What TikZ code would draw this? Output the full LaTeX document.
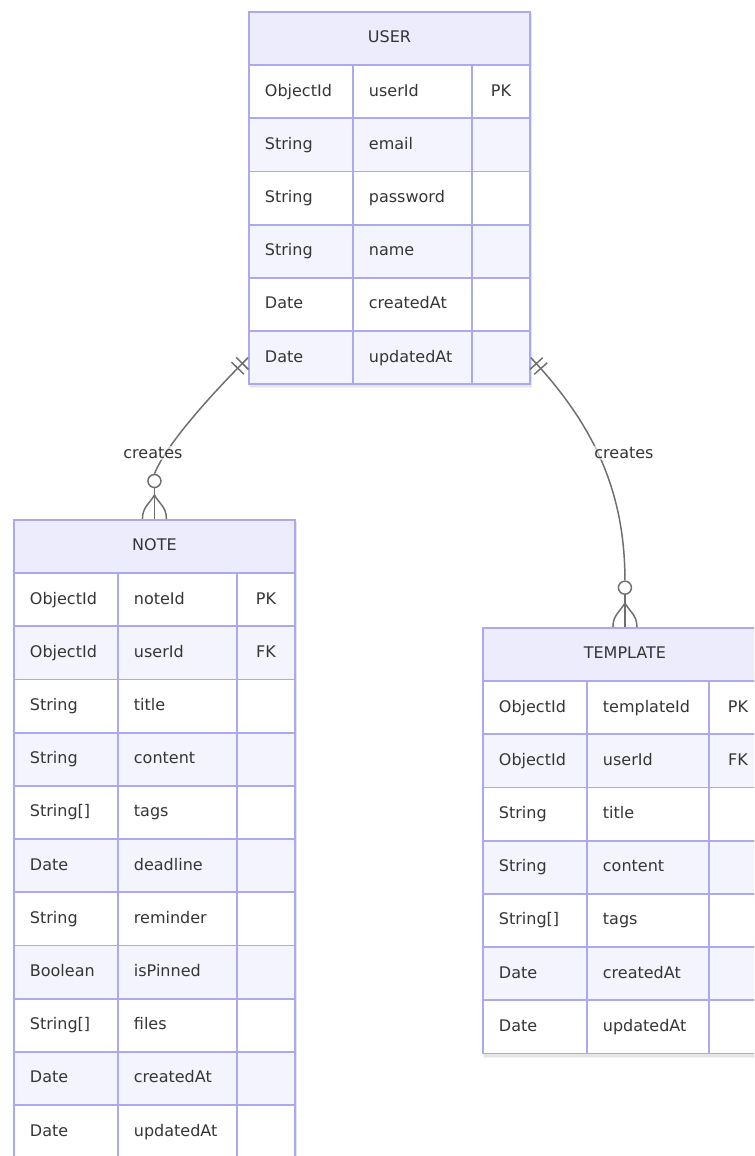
\documentclass[tikz,border=0pt]{standalone}
\usepackage{fontspec}
\setmainfont{DejaVu Sans}
\usetikzlibrary{decorations.markings}

\definecolor{erborder}{HTML}{ACA9EF}
\definecolor{erhead}{HTML}{ECECFD}
\definecolor{eralt}{HTML}{F4F4FE}
\definecolor{ertext}{HTML}{353535}
\definecolor{erline}{HTML}{6E6E6E}

\tikzset{
  ercell/.style={draw=erborder, line width=1.4pt, anchor=north west,
    minimum height=39.9pt, text=ertext, font=\fontsize{12}{14}\selectfont,
    text height=9pt, text depth=2.6pt},
  erleft/.style={ercell, inner xsep=12pt, inner ysep=0pt, align=left},
  erkey/.style={ercell, inner sep=0pt, minimum width=43.5pt},
  erheader/.style={ercell, inner sep=0pt, fill=erhead},
  ershadow/.style={fill=black, opacity=0.05},
  erlink/.style={draw=erline, line width=1.1pt},
  ercirc/.style={circle, draw=erline, line width=1.1pt, fill=white,
    minimum size=9.75pt, inner sep=0pt},
  onebars/.style={postaction={decorate, decoration={markings,
    mark=at position 6pt with {\draw[erline, line width=1.1pt] (0pt,-6.5pt) -- (0pt,6.5pt);},
    mark=at position 11pt with {\draw[erline, line width=1.1pt] (0pt,-6.5pt) -- (0pt,6.5pt);}}}},
  erlabel/.style={fill=white, fill opacity=0.6, text opacity=1, inner sep=1pt,
    text=ertext, font=\fontsize{12}{14}\selectfont}
}

% \ertable{name}{left}{top}{name column width}{title}{rows}{row count}
% all positions in pixels of the drawing grid
\newcommand\ertable[7]{%
  \pgfmathsetmacro\erW{104+#4+58}%
  \pgfmathsetmacro\erNT{#4*0.75-24}%
  \fill[ershadow] (#2+1,#3+2) rectangle +(\erW+2,{53.2*(#7+1)+2});
  \fill[ershadow] (#2+2,#3+3) rectangle +(\erW+1,{53.2*(#7+1)+2});
  \node[erheader, minimum width=\erW*0.75pt] (#1-h) at (#2,#3) {#5};
  \foreach [count=\i] \ty/\nm/\ky in {#6} {
    \pgfmathsetmacro\ery{#3+53.2*\i}
    \ifodd\i \def\erfill{white}\else \def\erfill{eralt}\fi
    \node[erleft, fill=\erfill, text width=54pt] (#1-r\i) at (#2,\ery) {\ty};
    \node[erleft, fill=\erfill, text width=\erNT pt] (#1-n\i) at (#2+104,\ery) {\nm};
    \node[erkey, fill=\erfill] (#1-k\i) at (#2+104+#4,\ery) {\ky};
  }
}

% zero-or-more end: circle plus crow's foot on the top edge of a table
\newcommand\crowfoot[1]{%
  \draw[erlink] (#1-o.south) -- (#1-h.north);
  \draw[erlink] ([xshift=-9pt]#1-h.north) .. controls +(0,-12) and +(-5,9) ..
    ([yshift=18pt]#1-h.north) .. controls +(5,9) and +(0,-12) ..
    ([xshift=9pt]#1-h.north);
}

\begin{document}
\begin{tikzpicture}[x=0.75pt, y=-0.75pt]
  \clip (0,0) rectangle (754,1156);
  \fill[white] (0,0) rectangle (754,1156);

  \ertable{user}{248}{11}{119}{USER}{ObjectId/userId/PK, String/email/, String/password/,
    String/name/, Date/createdAt/, Date/updatedAt/}{6}

  \ertable{note}{13}{519}{119}{NOTE}{ObjectId/noteId/PK, ObjectId/userId/FK, String/title/,
    String/content/, String[]/tags/, Date/deadline/, String/reminder/, Boolean/isPinned/,
    String[]/files/, Date/createdAt/, Date/updatedAt/}{11}

  \ertable{tmpl}{482}{627}{122}{TEMPLATE}{ObjectId/templateId/PK, ObjectId/userId/FK,
    String/title/, String/content/, String[]/tags/, Date/createdAt/, Date/updatedAt/}{7}

  % relationship ends
  \node[ercirc] (note-o) at ([yshift=28.5pt]note-h.north) {};
  \node[ercirc] (tmpl-o) at ([yshift=29.5pt]tmpl-h.north) {};

  % USER creates NOTE
  \draw[erlink, onebars] (user-r6.west) .. controls +(-35,35) and +(12,-30) .. (note-o.north);
  \crowfoot{note}
  \node[erlabel] (lbl-note) at (153,453) {creates};

  % USER creates TEMPLATE
  \draw[erlink, onebars] (user-k6.east) .. controls +(66,70) and +(0,-85) .. (tmpl-o.north);
  \crowfoot{tmpl}
  \node[erlabel] (lbl-tmpl) at (624,453) {creates};
\end{tikzpicture}
\end{document}
